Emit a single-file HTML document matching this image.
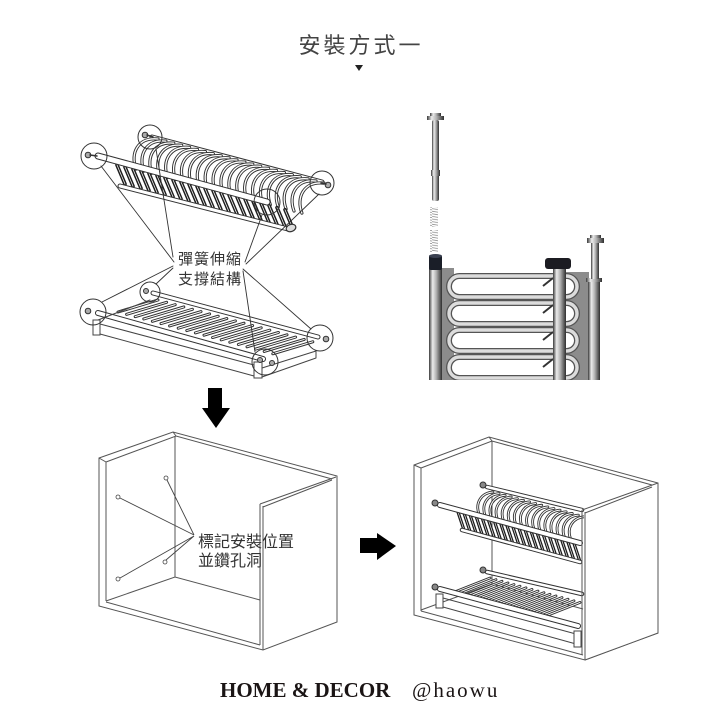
<!DOCTYPE html>
<html><head><meta charset="utf-8"><style>
html,body{margin:0;padding:0;background:#fff;}
svg{display:block;}
</style></head><body>
<svg width="720" height="720" viewBox="0 0 720 720" xmlns="http://www.w3.org/2000/svg">
<defs>
<linearGradient id="mt" x1="0" x2="1" y1="0" y2="0">
<stop offset="0" stop-color="#3a3a3a"/><stop offset=".28" stop-color="#ececec"/><stop offset=".55" stop-color="#b4b4b4"/><stop offset=".8" stop-color="#6a6a6a"/><stop offset="1" stop-color="#2e2e2e"/>
</linearGradient>
<pattern id="spr" width="8" height="2.6" patternUnits="userSpaceOnUse"><path d="M0,0.6 L8,1.9" stroke="#8a8a8a" stroke-width="0.8"/></pattern>
<clipPath id="ph"><rect x="420" y="100" width="190" height="280"/></clipPath>
<path id="tp" d="M0,0 C-6,-16 2,-32 22,-30"/>
<path id="sb" d="M0,0 L8,19"/>
<path id="gb" d="M0,0 L40,-12"/>
<path id="rp" d="M0,0 C-4,-11 2,-21 14,-22"/>
<path id="rb" d="M0,0 L6,18"/>
<path id="rg" d="M0,0 L38,-15"/>
<g id="TP">
<use href="#tp" x="136" y="169"/><use href="#tp" x="143.9" y="171.1"/><use href="#tp" x="151.8" y="173.2"/><use href="#tp" x="159.7" y="175.3"/><use href="#tp" x="167.6" y="177.4"/><use href="#tp" x="175.5" y="179.5"/><use href="#tp" x="183.4" y="181.6"/><use href="#tp" x="191.3" y="183.7"/><use href="#tp" x="199.2" y="185.8"/><use href="#tp" x="207.1" y="187.9"/><use href="#tp" x="215" y="190"/><use href="#tp" x="222.9" y="192.1"/><use href="#tp" x="230.8" y="194.2"/><use href="#tp" x="238.7" y="196.3"/><use href="#tp" x="246.6" y="198.4"/><use href="#tp" x="254.5" y="200.5"/><use href="#tp" x="262.4" y="202.6"/><use href="#tp" x="270.3" y="204.7"/><use href="#tp" x="278.2" y="206.8"/><use href="#tp" x="286.1" y="208.9"/><use href="#tp" x="294" y="211"/><use href="#tp" x="301.9" y="213.1"/>
</g>
<g id="SB">
<use href="#sb" x="117" y="165"/><use href="#sb" x="125" y="167.13"/><use href="#sb" x="133" y="169.26"/><use href="#sb" x="141" y="171.39"/><use href="#sb" x="149" y="173.52"/><use href="#sb" x="157" y="175.65"/><use href="#sb" x="165" y="177.78"/><use href="#sb" x="173" y="179.91"/><use href="#sb" x="181" y="182.04"/><use href="#sb" x="189" y="184.17"/><use href="#sb" x="197" y="186.3"/><use href="#sb" x="205" y="188.43"/><use href="#sb" x="213" y="190.56"/><use href="#sb" x="221" y="192.69"/><use href="#sb" x="229" y="194.82"/><use href="#sb" x="237" y="196.95"/><use href="#sb" x="245" y="199.08"/><use href="#sb" x="253" y="201.21"/><use href="#sb" x="261" y="203.34"/><use href="#sb" x="269" y="205.47"/><use href="#sb" x="277" y="207.6"/><use href="#sb" x="285" y="209.73"/>
</g>
<g id="GB">
<use href="#gb" x="118" y="312"/><use href="#gb" x="126.6" y="314.32"/><use href="#gb" x="135.2" y="316.64"/><use href="#gb" x="143.8" y="318.96"/><use href="#gb" x="152.4" y="321.28"/><use href="#gb" x="161" y="323.6"/><use href="#gb" x="169.6" y="325.92"/><use href="#gb" x="178.2" y="328.24"/><use href="#gb" x="186.8" y="330.56"/><use href="#gb" x="195.4" y="332.88"/><use href="#gb" x="204" y="335.2"/><use href="#gb" x="212.6" y="337.52"/><use href="#gb" x="221.2" y="339.84"/><use href="#gb" x="229.8" y="342.16"/><use href="#gb" x="238.4" y="344.48"/><use href="#gb" x="247" y="346.8"/><use href="#gb" x="255.6" y="349.12"/><use href="#gb" x="264.2" y="351.44"/><use href="#gb" x="272.8" y="353.76"/>
</g>
<g id="RP">
<use href="#rp" x="479" y="514"/><use href="#rp" x="485.1" y="515.65"/><use href="#rp" x="491.2" y="517.3"/><use href="#rp" x="497.3" y="518.95"/><use href="#rp" x="503.4" y="520.6"/><use href="#rp" x="509.5" y="522.25"/><use href="#rp" x="515.6" y="523.9"/><use href="#rp" x="521.7" y="525.55"/><use href="#rp" x="527.8" y="527.2"/><use href="#rp" x="533.9" y="528.85"/><use href="#rp" x="540" y="530.5"/><use href="#rp" x="546.1" y="532.15"/><use href="#rp" x="552.2" y="533.8"/><use href="#rp" x="558.3" y="535.45"/><use href="#rp" x="564.4" y="537.1"/><use href="#rp" x="570.5" y="538.75"/>
</g>
<g id="RB">
<use href="#rb" x="458" y="512"/><use href="#rb" x="464.1" y="513.65"/><use href="#rb" x="470.2" y="515.3"/><use href="#rb" x="476.3" y="516.95"/><use href="#rb" x="482.4" y="518.6"/><use href="#rb" x="488.5" y="520.25"/><use href="#rb" x="494.6" y="521.9"/><use href="#rb" x="500.7" y="523.55"/><use href="#rb" x="506.8" y="525.2"/><use href="#rb" x="512.9" y="526.85"/><use href="#rb" x="519" y="528.5"/><use href="#rb" x="525.1" y="530.15"/><use href="#rb" x="531.2" y="531.8"/><use href="#rb" x="537.3" y="533.45"/><use href="#rb" x="543.4" y="535.1"/><use href="#rb" x="549.5" y="536.75"/><use href="#rb" x="555.6" y="538.4"/><use href="#rb" x="561.7" y="540.05"/><use href="#rb" x="567.8" y="541.7"/><use href="#rb" x="573.9" y="543.35"/>
</g>
<g id="RG">
<use href="#rg" x="452" y="593"/><use href="#rg" x="458" y="594.63"/><use href="#rg" x="464" y="596.26"/><use href="#rg" x="470" y="597.89"/><use href="#rg" x="476" y="599.52"/><use href="#rg" x="482" y="601.15"/><use href="#rg" x="488" y="602.78"/><use href="#rg" x="494" y="604.41"/><use href="#rg" x="500" y="606.04"/><use href="#rg" x="506" y="607.67"/><use href="#rg" x="512" y="609.3"/><use href="#rg" x="518" y="610.93"/><use href="#rg" x="524" y="612.56"/><use href="#rg" x="530" y="614.19"/><use href="#rg" x="536" y="615.82"/><use href="#rg" x="542" y="617.45"/>
</g>
</defs>

<rect width="720" height="720" fill="#fff"/>

<!-- Title -->
<text x="361" y="53" font-family="Liberation Sans, Noto Sans CJK TC, sans-serif" font-size="22" letter-spacing="3" text-anchor="middle" fill="#444">安裝方式一</text>
<polygon points="355,65 363,65 359,71" fill="#222"/>

<!-- ===== Top-left rack drawing ===== -->
<g fill="none" stroke-linecap="round">
  <line x1="152" y1="137" x2="322" y2="182" stroke="#333" stroke-width="5"/>
  <line x1="152" y1="137" x2="322" y2="182" stroke="#fff" stroke-width="3"/>
  <use href="#TP" stroke="#333" stroke-width="3.2"/>
  <use href="#TP" stroke="#fff" stroke-width="1.3"/>
  <use href="#SB" stroke="#1e1e1e" stroke-width="3.6"/>
  <use href="#SB" stroke="#fff" stroke-width="0.7"/>
  <line x1="120" y1="186" x2="288" y2="229" stroke="#333" stroke-width="5"/>
  <line x1="120" y1="186" x2="288" y2="229" stroke="#fff" stroke-width="3"/>
  <ellipse cx="291" cy="228" rx="5" ry="3.5" transform="rotate(-20 291 228)" stroke="#333" stroke-width="1.2" fill="#ddd"/>
  <line x1="98" y1="156" x2="267" y2="202" stroke="#333" stroke-width="7"/>
  <line x1="98" y1="156" x2="267" y2="202" stroke="#fff" stroke-width="5"/>
  <circle cx="88" cy="155" r="2.8" stroke="#333" stroke-width="1" fill="#aaa"/>
  <line x1="90" y1="155" x2="97" y2="156" stroke="#333" stroke-width="1.5"/>
  <circle cx="145" cy="135" r="2.8" stroke="#333" stroke-width="1" fill="#aaa"/>
  <line x1="147" y1="135" x2="153" y2="137" stroke="#333" stroke-width="1.5"/>
  <circle cx="328" cy="185" r="2.8" stroke="#333" stroke-width="1" fill="#aaa"/>
  <line x1="321" y1="183" x2="326" y2="184" stroke="#333" stroke-width="1.5"/>
  <circle cx="94" cy="156" r="13" stroke="#333" stroke-width="1"/>
  <circle cx="150" cy="137" r="12" stroke="#333" stroke-width="1"/>
  <circle cx="322" cy="183" r="12" stroke="#333" stroke-width="1"/>
  <circle cx="267" cy="202" r="13" stroke="#333" stroke-width="1"/>

  <line x1="153" y1="293" x2="318" y2="337" stroke="#333" stroke-width="5"/>
  <line x1="153" y1="293" x2="318" y2="337" stroke="#fff" stroke-width="3"/>
  <use href="#GB" stroke="#333" stroke-width="3"/>
  <use href="#GB" stroke="#fff" stroke-width="1"/>
  <line x1="98" y1="313" x2="263" y2="359" stroke="#333" stroke-width="6"/>
  <line x1="98" y1="313" x2="263" y2="359" stroke="#fff" stroke-width="4"/>
  <g stroke="#444" stroke-width="1">
    <rect x="93" y="320" width="7" height="15" fill="#fff"/>
    <path d="M100,324 L254,365 M100,334 L254,376 M98,320 L150,300"/>
    <rect x="254" y="362" width="8" height="16" fill="#fff"/>
    <path d="M262,368 L316,351 M262,377 L316,358 M316,351 L316,358"/>
  </g>
  <circle cx="88" cy="311" r="2.8" stroke="#333" stroke-width="1" fill="#aaa"/>
  <circle cx="146" cy="291" r="2.5" stroke="#333" stroke-width="1" fill="#aaa"/>
  <circle cx="326" cy="339" r="2.8" stroke="#333" stroke-width="1" fill="#aaa"/>
  <circle cx="260" cy="360" r="2.5" stroke="#333" stroke-width="1" fill="#aaa"/>
  <circle cx="272" cy="363" r="2.5" stroke="#333" stroke-width="1" fill="#aaa"/>
  <circle cx="150" cy="292" r="10" stroke="#333" stroke-width="1"/>
  <circle cx="93" cy="312" r="13" stroke="#333" stroke-width="1"/>
  <circle cx="320" cy="338" r="13" stroke="#333" stroke-width="1"/>
  <circle cx="265" cy="362" r="13" stroke="#333" stroke-width="1"/>

  <g stroke="#333" stroke-width="0.9">
    <path d="M101,166 L174,262"/>
    <path d="M156,149 L173,257"/>
    <path d="M262,215 L245,262"/>
    <path d="M319,194 L246,264"/>
    <path d="M173,266 L102,302"/>
    <path d="M173,268 L156,284"/>
    <path d="M243,269 L311,329"/>
    <path d="M243,271 L255,352"/>
  </g>
</g>
<text font-family="Liberation Sans, Noto Sans CJK TC, sans-serif" font-size="15" letter-spacing="1" fill="#333"><tspan x="178" y="264">彈簧伸縮</tspan><tspan x="178" y="284">支撐結構</tspan></text>

<polygon points="208,388 222,388 222,408 230,408 216,428 202,408 208,408" fill="#000"/>

<!-- ===== Top-right photo ===== -->
<g clip-path="url(#ph)">
  <rect x="430" y="113" width="11" height="3" fill="url(#mt)"/>
  <rect x="427" y="116" width="17" height="4" fill="url(#mt)"/>
  <rect x="432" y="120" width="7" height="81" rx="2" fill="url(#mt)"/>
  <rect x="431" y="170" width="9" height="6" fill="url(#mt)"/>
  <rect x="430" y="207" width="8" height="20" fill="url(#spr)"/>
  <rect x="430" y="230" width="8" height="22" fill="url(#spr)"/>
  <rect x="441" y="268" width="13" height="112" fill="#8c8c8c"/>
  <rect x="565" y="272" width="24" height="108" fill="#8c8c8c"/>
  <g fill="#fff" stroke="#555" stroke-width="6">
    <rect x="449" y="276" width="128" height="21" rx="10.5"/>
    <rect x="449" y="303" width="128" height="21" rx="10.5"/>
    <rect x="449" y="330" width="128" height="21" rx="10.5"/>
    <rect x="449" y="357" width="128" height="21" rx="10.5"/>
    <rect x="449" y="384" width="128" height="21" rx="10.5"/>
  </g>
  <g fill="none" stroke="#dcdcdc" stroke-width="3.4">
    <rect x="449" y="276" width="128" height="21" rx="10.5"/>
    <rect x="449" y="303" width="128" height="21" rx="10.5"/>
    <rect x="449" y="330" width="128" height="21" rx="10.5"/>
    <rect x="449" y="357" width="128" height="21" rx="10.5"/>
  </g>
  <g stroke="#333" stroke-width="2">
    <path d="M543,286 L553,278 M543,313 L553,305 M543,340 L553,332 M543,367 L553,359"/>
  </g>
  <rect x="429" y="268" width="13" height="112" fill="url(#mt)"/>
  <rect x="429" y="255" width="13" height="15" rx="2" fill="#1a1e28"/>
  <ellipse cx="435.5" cy="256" rx="6.5" ry="2" fill="#3a4050"/>
  <rect x="553" y="266" width="13" height="114" fill="url(#mt)"/>
  <rect x="545" y="258" width="26" height="11" rx="3" fill="#1c1c22"/>
  <rect x="588" y="281" width="12" height="99" fill="url(#mt)"/>
  <rect x="586" y="278" width="16" height="4" fill="url(#mt)"/>
  <rect x="591" y="243" width="8" height="36" fill="url(#mt)"/>
  <rect x="587" y="238" width="17" height="5" fill="url(#mt)"/>
  <rect x="590" y="235" width="11" height="3" fill="url(#mt)"/>
</g>

<!-- ===== Bottom-left cabinet ===== -->
<g fill="none" stroke="#555" stroke-width="1">
  <path d="M99,606 L99,458 L173,432 L337,476 L337,622 L263,650 Z"/>
  <path d="M106,601 L106,462 L176,436 L332,479"/>
  <path d="M99,458 L106,462 M173,432 L176,436"/>
  <path d="M175,436 L175,577"/>
  <path d="M106,601 L175,577 L260,600"/>
  <path d="M106,602 L260,645"/>
  <path d="M260,504 L260,645 M263,506 L263,650 M260,504 L336,477 M263,507 L332,480"/>
</g>
<g fill="#fff" stroke="#444" stroke-width="0.8">
  <circle cx="166" cy="478" r="2"/>
  <circle cx="118" cy="497" r="2"/>
  <circle cx="165" cy="562" r="2"/>
  <circle cx="118" cy="579" r="2"/>
</g>
<g stroke="#444" stroke-width="0.9" fill="none">
  <path d="M167,480 L194,535 M120,498 L194,535 M166,560 L194,536 M120,578 L194,536"/>
</g>
<text font-family="Liberation Sans, Noto Sans CJK TC, sans-serif" font-size="16" fill="#333"><tspan x="198" y="547">標記安裝位置</tspan><tspan x="198" y="566">並鑽孔洞</tspan></text>

<polygon points="360,538 377,538 377,533 396,546 377,560 377,553 360,553" fill="#000"/>

<!-- ===== Bottom-right cabinet ===== -->
<g fill="none" stroke="#555" stroke-width="1">
  <path d="M414,615 L414,465 L489,437 L658,483 L658,633 L585,660 Z"/>
  <path d="M421,611 L421,468 L492,441 L652,485"/>
  <path d="M414,465 L421,468 M489,437 L492,441"/>
  <path d="M492,441 L492,584"/>
  <path d="M421,610 L492,584 L583,609"/>
  <path d="M421,611 L583,655"/>
</g>
<g fill="none" stroke-linecap="round">
  <line x1="487" y1="487" x2="582" y2="510" stroke="#333" stroke-width="4.5"/>
  <line x1="487" y1="487" x2="582" y2="510" stroke="#fff" stroke-width="2.5"/>
  <use href="#RP" stroke="#333" stroke-width="2.8"/>
  <use href="#RP" stroke="#fff" stroke-width="1"/>
  <use href="#RB" stroke="#1e1e1e" stroke-width="3.2"/>
  <use href="#RB" stroke="#fff" stroke-width="0.6"/>
  <line x1="462" y1="530" x2="580" y2="562" stroke="#333" stroke-width="4.5"/>
  <line x1="462" y1="530" x2="580" y2="562" stroke="#fff" stroke-width="2.5"/>
  <line x1="440" y1="505" x2="580" y2="543" stroke="#333" stroke-width="6"/>
  <line x1="440" y1="505" x2="580" y2="543" stroke="#fff" stroke-width="4"/>
  <circle cx="435" cy="503" r="3" stroke="#333" stroke-width="1" fill="#888"/>
  <circle cx="483" cy="485" r="3" stroke="#333" stroke-width="1" fill="#888"/>
  <line x1="487" y1="572" x2="582" y2="594" stroke="#333" stroke-width="4.5"/>
  <line x1="487" y1="572" x2="582" y2="594" stroke="#fff" stroke-width="2.5"/>
  <use href="#RG" stroke="#333" stroke-width="2.8"/>
  <use href="#RG" stroke="#fff" stroke-width="0.9"/>
  <line x1="440" y1="589" x2="578" y2="626" stroke="#333" stroke-width="6"/>
  <line x1="440" y1="589" x2="578" y2="626" stroke="#fff" stroke-width="4"/>
  <circle cx="435" cy="587" r="3" stroke="#333" stroke-width="1" fill="#888"/>
  <circle cx="483" cy="570" r="3" stroke="#333" stroke-width="1" fill="#888"/>
  <g stroke="#444" stroke-width="1">
    <rect x="436" y="594" width="7" height="14" fill="#fff"/>
    <path d="M443,598 L576,634 M443,607 L576,644"/>
    <rect x="574" y="631" width="7" height="16" fill="#fff"/>
  </g>
</g>
<path d="M584,511 L658,483 L658,633 L585,660 Z" fill="#fff" stroke="none"/>
<g fill="none" stroke="#555" stroke-width="1">
  <path d="M658,483 L658,633 L585,660"/>
  <path d="M582,510 L582,655 M585,512 L585,660 M582,510 L658,483 M585,513 L652,487"/>
</g>

<text x="220" y="697" font-family="Liberation Serif, serif" font-weight="bold" font-size="21" fill="#1a1414">HOME &amp; DECOR</text>
<text x="412" y="697" font-family="Liberation Serif, serif" font-size="21" letter-spacing="2" fill="#1a1414">@haowu</text>
</svg>
</body></html>
